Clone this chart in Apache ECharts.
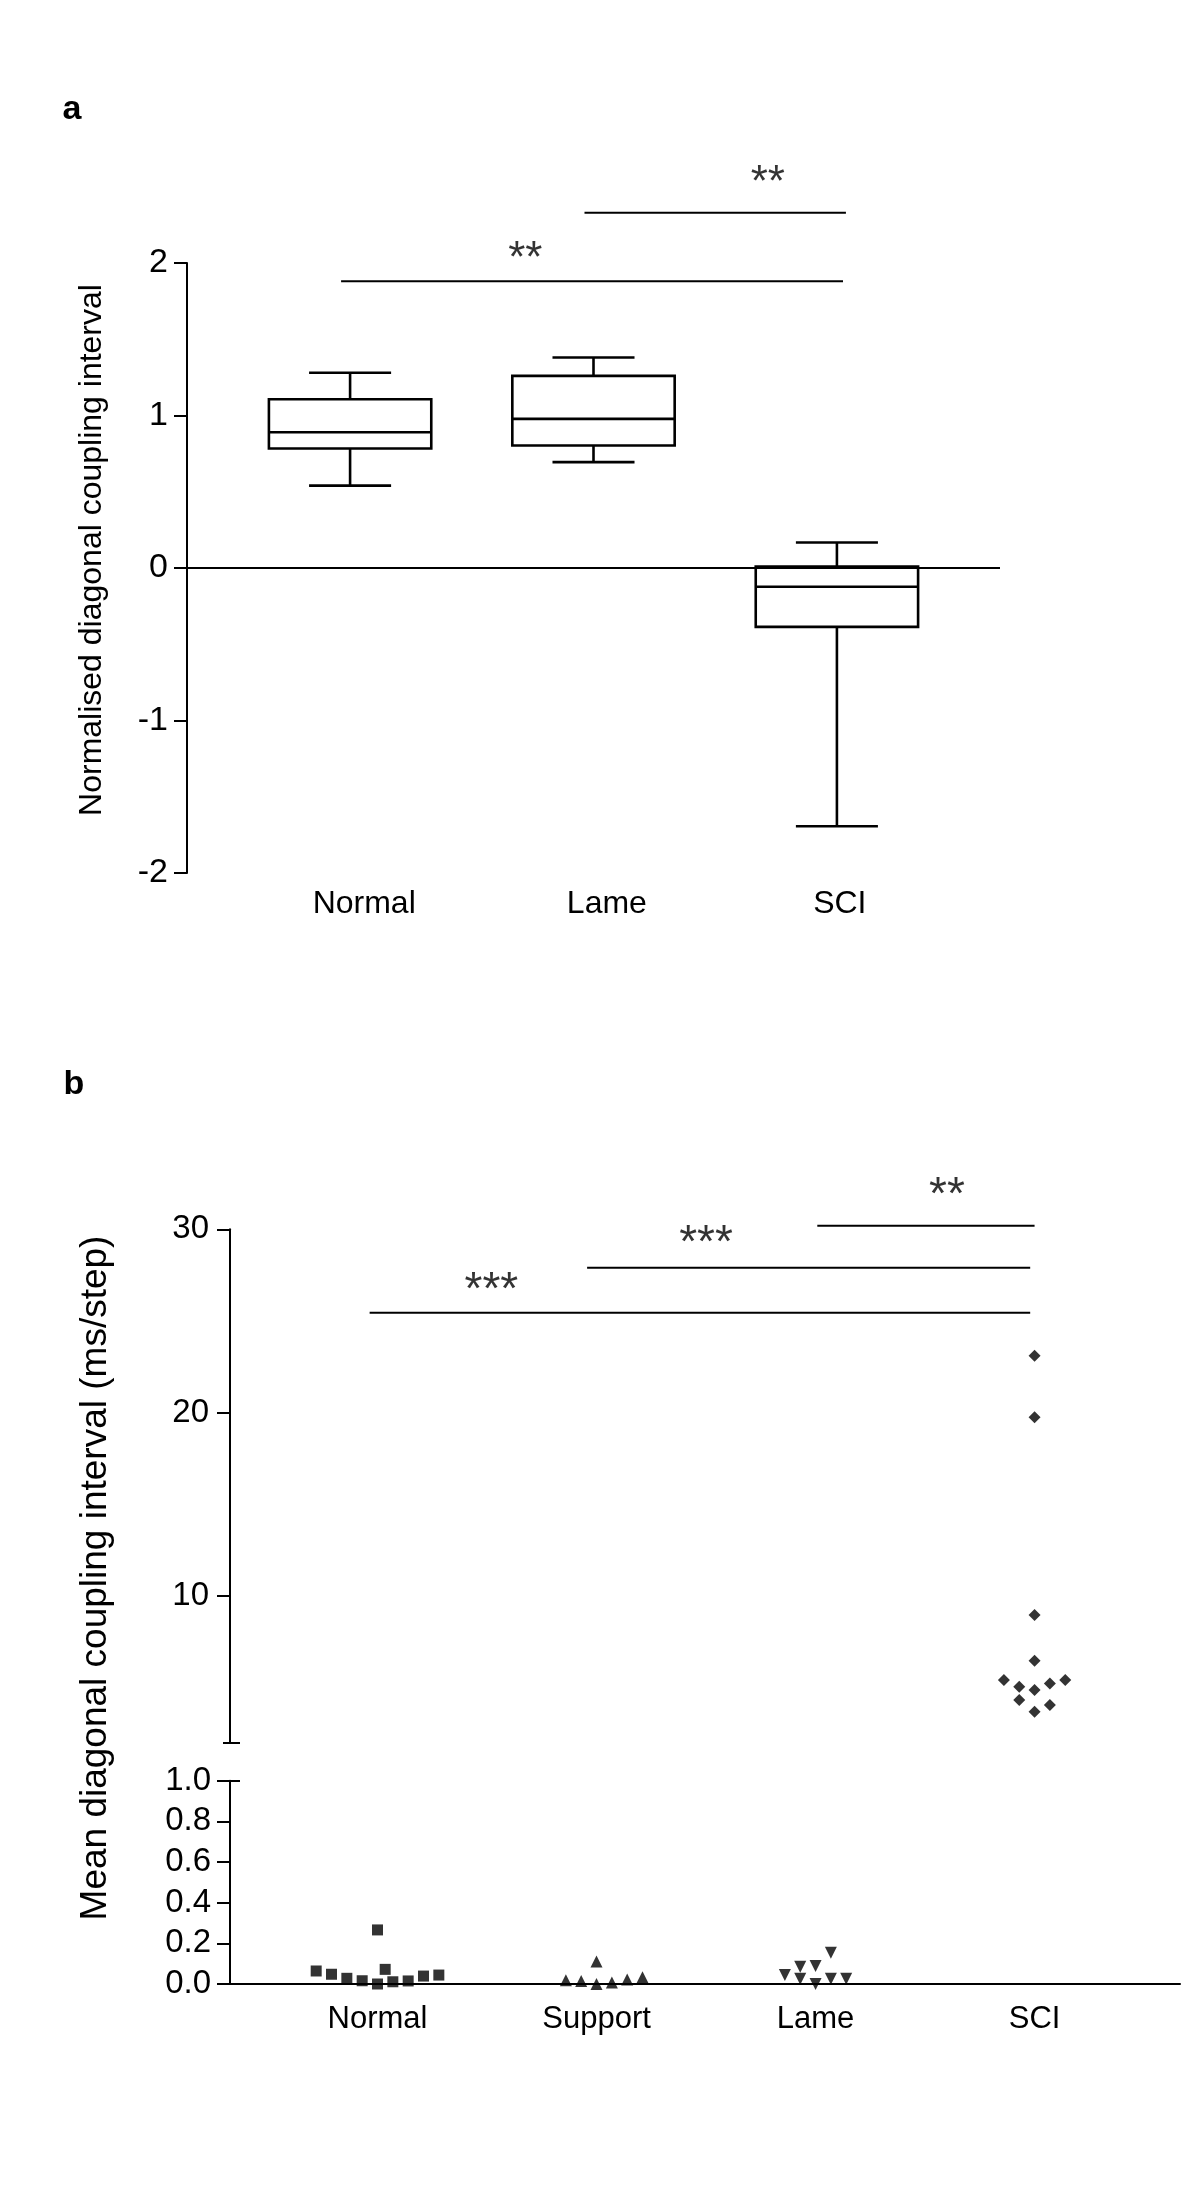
<!DOCTYPE html>
<html><head><meta charset="utf-8">
<script src="https://cdn.jsdelivr.net/npm/echarts@6/dist/echarts.min.js"></script>
<style>html,body{margin:0;padding:0;background:#fff}#c{width:1200px;height:2199px}</style>
</head><body><div id="c"></div>
<script>
// ---------- Panel a data ----------
const aCategories = ['Normal', 'Lame', 'SCI'];
// [min, Q1, median, Q3, max]
const aBoxes = [
  [0.54, 0.784, 0.89, 1.107, 1.28],
  [0.694, 0.803, 0.978, 1.26, 1.38],
  [-1.693, -0.386, -0.123, 0.01, 0.167]
];
const aYTicks = [-2, -1, 0, 1, 2];
// significance bars: [fromX, toX, y]
const aSigBars = [[0.963, 3.025, 1.88], [1.963, 3.037, 2.33]];
// significance marks: [x, y, text]
const aSigMarks = [[1.72, 2.02, '**'], [2.716, 2.52, '**']];

// ---------- Panel b data ----------
const bCategories = ['Normal', 'Support', 'Lame', 'SCI'];
const bNormal = [0.064, 0.048, 0.028, 0.016, 0.0, 0.266, 0.072, 0.011, 0.015, 0.039, 0.044];
const bNormalJitter = [-4, -3, -2, -1, 0, 0, 0.5, 1, 2, 3, 4];
const bSupport = [0.019, 0.015, 0.111, 0.0, 0.007, 0.022, 0.033];
const bSupportJitter = [-2, -1, 0, 0, 1, 2, 3];
const bLame = [0.044, 0.085, 0.026, 0.089, 0.0, 0.154, 0.026, 0.026];
const bLameJitter = [-2, -1, -1, 0, 0, 1, 1, 2];
const bSCI = [23.1, 19.75, 8.96, 6.47, 5.42, 5.05, 4.87, 5.23, 5.42, 4.33, 4.05, 3.69];
const bSCIJitter = [0, 0, 0, 0, -2, -1, 0, 1, 2, -1, 1, 0];
const bUpperTicks = [10, 20, 30];
const bLowerTicks = [0, 0.2, 0.4, 0.6, 0.8, 1.0];
const bSigBars = [[0.964, 3.98, 25.45], [1.957, 3.98, 27.9], [3.008, 4.0, 30.2]];
const bSigMarks = [[1.52, 26.6, '***'], [2.5, 29.2, '***'], [3.6, 31.8, '**']];

// ---------- styling ----------
const FONT = '"Liberation Sans", Arial, Helvetica, sans-serif';
const BLACK = '#000';
const JITTER_STEP = 0.07;
const BOX_W = 0.667, CAP_W = 0.337;
const A_LABEL_SHIFT = [0.058, 0.055, 0.012];

const chart = echarts.init(document.getElementById('c'), null, {renderer: 'canvas'});

function sigLineSeries(bars, xi, yi) {
  return bars.map(b => ({
    type: 'line', xAxisIndex: xi, yAxisIndex: yi, data: [[b[0], b[2]], [b[1], b[2]]],
    symbol: 'none', clip: false, silent: true, z: 2,
    lineStyle: {color: BLACK, width: 2}
  }));
}
function sigMarkSeries(marks, xi, yi, size) {
  return {
    type: 'scatter', xAxisIndex: xi, yAxisIndex: yi, symbolSize: 0, clip: false, silent: true,
    data: marks.map(m => ({value: [m[0], m[1]], name: m[2]})),
    label: {show: true, position: 'inside', formatter: '{b}', color: BLACK, fontSize: size, fontFamily: FONT}
  };
}
function pts(vals, jit, cat) {
  return vals.map((v, i) => [cat + jit[i] * JITTER_STEP, v]);
}
const tickStyle = {color: BLACK, width: 2};
const axisLbl = (size, margin) => ({color: BLACK, fontSize: size, fontFamily: FONT, margin: margin});

const option = {
  animation: false,
  backgroundColor: '#fff',
  grid: [
    {left: 187, top: 263, width: 813, height: 610, outerBoundsMode: 'none'},
    {left: 230, top: 1229.3, width: 950, height: 513.4, outerBoundsMode: 'none'},
    {left: 230, top: 1780.7, width: 950, height: 203.3, outerBoundsMode: 'none'}
  ],
  xAxis: [
    {gridIndex: 0, type: 'value', min: 0.33, max: 3.67,
      axisLine: {show: false, onZero: false}, axisTick: {show: false}, splitLine: {show: false},
      axisLabel: Object.assign(axisLbl(32, 15), {
        customValues: aCategories.map((c, i) => i + 1 + A_LABEL_SHIFT[i]),
        formatter: v => aCategories[Math.round(v) - 1]})},
    {gridIndex: 1, type: 'value', min: 0.3265, max: 4.664, show: false, axisLine: {onZero: false}},
    {gridIndex: 2, type: 'value', min: 0.3265, max: 4.664,
      axisLine: {show: true, onZero: false, lineStyle: tickStyle}, axisTick: {show: false}, splitLine: {show: false},
      axisLabel: Object.assign(axisLbl(31, 20), {customValues: [1, 2, 3, 4], formatter: v => bCategories[Math.round(v) - 1]})}
  ],
  yAxis: [
    {gridIndex: 0, type: 'value', position: 'left', min: -2, max: 2, interval: 1,
      axisLine: {show: true, onZero: false, lineStyle: tickStyle},
      axisTick: {show: true, length: 13, lineStyle: tickStyle, customValues: aYTicks}, splitLine: {show: false},
      axisLabel: Object.assign(axisLbl(34, 19), {customValues: aYTicks})},
    {gridIndex: 1, type: 'value', position: 'left', min: 2, max: 30,
      axisLine: {show: true, onZero: false, lineStyle: tickStyle},
      axisTick: {show: true, length: 13, lineStyle: tickStyle, customValues: bUpperTicks}, splitLine: {show: false},
      axisLabel: Object.assign(axisLbl(33, 21), {customValues: bUpperTicks})},
    {gridIndex: 1, type: 'value', position: 'left', min: 2, max: 30, offset: -10,
      axisLine: {show: false, onZero: false},
      axisTick: {show: true, length: 17, lineStyle: tickStyle, customValues: [2]}, splitLine: {show: false},
      axisLabel: {show: false}},
    {gridIndex: 2, type: 'value', position: 'left', min: 0, max: 1, interval: 0.2,
      axisLine: {show: true, onZero: false, lineStyle: tickStyle},
      axisTick: {show: true, length: 13, lineStyle: tickStyle, customValues: bLowerTicks}, splitLine: {show: false},
      axisLabel: Object.assign(axisLbl(33, 19), {customValues: bLowerTicks, formatter: v => v.toFixed(1)})},
    {gridIndex: 2, type: 'value', position: 'left', min: 0, max: 1, offset: -10,
      axisLine: {show: false, onZero: false},
      axisTick: {show: true, length: 23, lineStyle: tickStyle, customValues: [1]}, splitLine: {show: false},
      axisLabel: {show: false}}
  ],
  graphic: [
    {type: 'text', x: 72, y: 110, style: {text: 'a', font: 'bold 34px ' + FONT, fill: BLACK, align: 'center', verticalAlign: 'middle', textAlign: 'center', textVerticalAlign: 'middle'}},
    {type: 'text', x: 74, y: 1085, style: {text: 'b', font: 'bold 34px ' + FONT, fill: BLACK, align: 'center', verticalAlign: 'middle', textAlign: 'center', textVerticalAlign: 'middle'}},
    {type: 'text', x: 92, y: 550, rotation: Math.PI / 2, style: {text: 'Normalised diagonal coupling interval', font: '32px ' + FONT, fill: BLACK, align: 'center', verticalAlign: 'middle', textAlign: 'center', textVerticalAlign: 'middle'}},
    {type: 'text', x: 96, y: 1578, rotation: Math.PI / 2, style: {text: 'Mean diagonal coupling interval (ms/step)', font: '37px ' + FONT, fill: BLACK, align: 'center', verticalAlign: 'middle', textAlign: 'center', textVerticalAlign: 'middle'}}
  ],
  series: [
    {
      type: 'line', xAxisIndex: 0, yAxisIndex: 0, data: [], silent: true, z: 1,
      markLine: {silent: true, symbol: 'none', label: {show: false}, lineStyle: {color: BLACK, width: 2, type: 'solid'}, data: [{yAxis: 0}]}
    },
    {
      type: 'custom', xAxisIndex: 0, yAxisIndex: 0, z: 3, clip: false,
      data: aBoxes.map((b, i) => [i + 1].concat(b)),
      renderItem: function (params, api) {
        const x = api.value(0);
        const c = v => api.coord([x, v]);
        const pMin = c(api.value(1)), pQ1 = c(api.value(2)), pMed = c(api.value(3)), pQ3 = c(api.value(4)), pMax = c(api.value(5));
        const bw = api.size([BOX_W, 0])[0], cw = api.size([CAP_W, 0])[0];
        const cx = pMin[0];
        const st = {stroke: BLACK, lineWidth: 2.6, fill: null};
        return {type: 'group', children: [
          {type: 'line', shape: {x1: cx, y1: pMax[1], x2: cx, y2: pQ3[1]}, style: st},
          {type: 'line', shape: {x1: cx, y1: pQ1[1], x2: cx, y2: pMin[1]}, style: st},
          {type: 'line', shape: {x1: cx - cw / 2, y1: pMax[1], x2: cx + cw / 2, y2: pMax[1]}, style: st},
          {type: 'line', shape: {x1: cx - cw / 2, y1: pMin[1], x2: cx + cw / 2, y2: pMin[1]}, style: st},
          {type: 'rect', shape: {x: cx - bw / 2, y: pQ3[1], width: bw, height: pQ1[1] - pQ3[1]}, style: {stroke: BLACK, lineWidth: 2.6, fill: '#fff'}},
          {type: 'line', shape: {x1: cx - bw / 2, y1: pMed[1], x2: cx + bw / 2, y2: pMed[1]}, style: st}
        ]};
      }
    }
  ]
  .concat(sigLineSeries(aSigBars, 0, 0))
  .concat([sigMarkSeries(aSigMarks, 0, 0, 44)])
  .concat([
    {type: 'scatter', xAxisIndex: 2, yAxisIndex: 3, clip: false, symbol: 'rect', symbolSize: 11, itemStyle: {color: BLACK}, data: pts(bNormal, bNormalJitter, 1)},
    {type: 'scatter', xAxisIndex: 2, yAxisIndex: 3, clip: false, symbol: 'triangle', symbolSize: 12, itemStyle: {color: BLACK}, data: pts(bSupport, bSupportJitter, 2)},
    {type: 'scatter', xAxisIndex: 2, yAxisIndex: 3, clip: false, symbol: 'triangle', symbolRotate: 180, symbolSize: 12, itemStyle: {color: BLACK}, data: pts(bLame, bLameJitter, 3)},
    {type: 'scatter', xAxisIndex: 1, yAxisIndex: 1, clip: false, symbol: 'diamond', symbolSize: 12, itemStyle: {color: BLACK}, data: pts(bSCI, bSCIJitter, 4)}
  ])
  .concat(sigLineSeries(bSigBars, 1, 1))
  .concat([sigMarkSeries(bSigMarks, 1, 1, 46)])
};
chart.setOption(option);
</script>
</body></html>
